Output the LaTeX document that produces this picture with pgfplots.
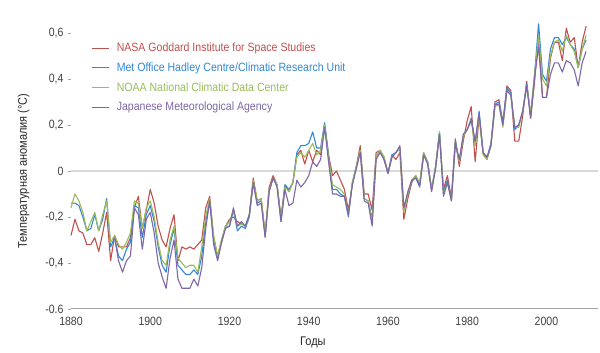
\documentclass[border=0pt]{standalone}
\usepackage{fontspec}
\setmainfont{Liberation Sans}[FakeStretch=0.88]
\usepackage{pgfplots}
\pgfplotsset{compat=1.18}
\usepackage{pgfplotstable}
\definecolor{cR}{HTML}{C0504D}
\definecolor{cB}{HTML}{3187D6}
\definecolor{cG}{HTML}{9BBB59}
\definecolor{cP}{HTML}{7E66A8}
\definecolor{txt}{HTML}{404040}
\definecolor{axgray}{HTML}{A6A6A6}
\definecolor{gridc}{HTML}{D9D9D9}

\pgfplotstableread{
year R B G P
1880 -0.28 -0.14 -0.16 nan
1881 -0.21 -0.14 -0.10 nan
1882 -0.26 -0.15 -0.13 nan
1883 -0.27 -0.20 -0.18 nan
1884 -0.32 -0.26 -0.26 nan
1885 -0.32 -0.25 -0.22 nan
1886 -0.29 -0.19 -0.18 nan
1887 -0.35 -0.26 -0.26 nan
1888 -0.27 -0.21 -0.19 nan
1889 -0.18 -0.12 -0.13 nan
1890 -0.39 -0.33 -0.31 nan
1891 -0.28 -0.29 -0.28 -0.29
1892 -0.33 -0.37 -0.32 -0.39
1893 -0.33 -0.39 -0.34 -0.44
1894 -0.33 -0.34 -0.31 -0.39
1895 -0.29 -0.31 -0.27 -0.37
1896 -0.16 -0.15 -0.13 -0.16
1897 -0.11 -0.16 -0.14 -0.19
1898 -0.25 -0.29 -0.25 -0.34
1899 -0.17 -0.19 -0.16 -0.21
1900 -0.08 -0.15 -0.13 -0.18
1901 -0.14 -0.22 -0.20 -0.27
1902 -0.24 -0.33 -0.31 -0.40
1903 -0.30 -0.41 -0.39 -0.46
1904 -0.33 -0.44 -0.41 -0.51
1905 -0.25 -0.32 -0.30 -0.38
1906 -0.19 -0.25 -0.24 -0.30
1907 -0.39 -0.41 -0.38 -0.47
1908 -0.33 -0.43 -0.40 -0.51
1909 -0.34 -0.45 -0.42 -0.51
1910 -0.33 -0.45 -0.41 -0.51
1911 -0.34 -0.43 -0.41 -0.47
1912 -0.32 -0.45 -0.44 -0.50
1913 -0.30 -0.37 -0.33 -0.42
1914 -0.16 -0.22 -0.20 -0.25
1915 -0.11 -0.13 -0.12 -0.13
1916 -0.29 -0.30 -0.28 -0.32
1917 -0.37 -0.38 -0.37 -0.39
1918 -0.30 -0.31 -0.30 -0.31
1919 -0.24 -0.24 -0.24 -0.25
1920 -0.21 -0.24 -0.22 -0.24
1921 -0.20 -0.17 -0.17 -0.16
1922 -0.22 -0.26 -0.24 -0.24
1923 -0.23 -0.24 -0.23 -0.22
1924 -0.24 -0.25 -0.24 -0.24
1925 -0.19 -0.20 -0.19 -0.19
1926 -0.03 -0.05 -0.04 -0.05
1927 -0.13 -0.14 -0.13 -0.15
1928 -0.12 -0.13 -0.12 -0.14
1929 -0.28 -0.28 -0.27 -0.29
1930 -0.07 -0.09 -0.08 -0.09
1931 -0.02 -0.03 -0.03 -0.03
1932 -0.06 -0.06 -0.06 -0.07
1933 -0.20 -0.22 -0.21 -0.22
1934 -0.06 -0.06 -0.07 -0.08
1935 -0.09 -0.08 -0.09 -0.15
1936 -0.05 -0.05 -0.05 -0.14
1937 0.07 0.08 0.06 -0.04
1938 0.09 0.11 0.08 -0.07
1939 0.03 0.11 0.06 -0.05
1940 0.09 0.12 0.09 -0.02
1941 0.04 0.17 0.12 0.04
1942 0.09 0.10 0.07 0.02
1943 0.07 0.10 0.09 0.05
1944 0.20 0.21 0.20 0.19
1945 0.07 0.07 0.06 0.04
1946 -0.02 -0.08 -0.06 -0.10
1947 0.00 -0.08 -0.07 -0.10
1948 -0.04 -0.10 -0.08 -0.11
1949 -0.08 -0.11 -0.10 -0.11
1950 -0.17 -0.20 -0.19 -0.19
1951 -0.06 -0.05 -0.05 -0.06
1952 0.02 0.02 0.02 0.01
1953 0.11 0.09 0.09 0.08
1954 -0.10 -0.12 -0.12 -0.13
1955 -0.10 -0.13 -0.13 -0.14
1956 -0.17 -0.21 -0.22 -0.24
1957 0.08 0.06 0.06 0.05
1958 0.09 0.09 0.09 0.08
1959 0.05 0.06 0.06 0.05
1960 -0.01 -0.01 -0.01 -0.01
1961 0.07 0.07 0.06 0.06
1962 0.05 0.08 0.08 0.08
1963 0.08 0.10 0.10 0.11
1964 -0.21 -0.17 -0.18 -0.16
1965 -0.12 -0.10 -0.10 -0.09
1966 -0.05 -0.04 -0.04 -0.04
1967 -0.02 -0.03 -0.02 -0.03
1968 -0.06 -0.06 -0.05 -0.07
1969 0.08 0.07 0.08 0.07
1970 0.04 0.04 0.04 0.03
1971 -0.08 -0.08 -0.08 -0.09
1972 0.01 0.02 0.02 0.01
1973 0.16 0.17 0.17 0.16
1974 -0.08 -0.09 -0.10 -0.11
1975 -0.02 -0.04 -0.05 -0.05
1976 -0.12 -0.12 -0.13 -0.13
1977 0.14 0.13 0.12 0.12
1978 0.02 0.04 0.04 0.05
1979 0.13 0.15 0.15 0.16
1980 0.22 0.18 0.18 0.18
1981 0.28 0.23 0.22 0.22
1982 0.04 0.12 0.11 0.13
1983 0.24 0.26 0.24 0.25
1984 0.08 0.08 0.07 0.08
1985 0.05 0.06 0.05 0.06
1986 0.12 0.12 0.11 0.11
1987 0.30 0.29 0.28 0.29
1988 0.31 0.30 0.29 0.29
1989 0.21 0.21 0.19 0.20
1990 0.37 0.36 0.35 0.35
1991 0.35 0.34 0.33 0.33
1992 0.13 0.18 0.19 0.19
1993 0.13 0.20 0.19 0.20
1994 0.24 0.26 0.26 0.26
1995 0.39 0.38 0.37 0.37
1996 0.23 0.24 0.25 0.23
1997 0.39 0.42 0.42 0.41
1998 0.59 0.64 0.59 0.54
1999 0.32 0.42 0.40 0.32
2000 0.32 0.39 0.37 0.32
2001 0.49 0.53 0.50 0.42
2002 0.56 0.58 0.56 0.47
2003 0.56 0.58 0.57 0.47
2004 0.48 0.55 0.52 0.43
2005 0.62 0.58 0.59 0.48
2006 0.56 0.55 0.55 0.47
2007 0.58 0.53 0.52 0.44
2008 0.45 0.45 0.45 0.37
2009 0.56 0.53 0.53 0.47
2010 0.63 0.57 0.59 0.52
}\temps

\begin{document}
\begin{tikzpicture}
\begin{axis}[
  scale only axis,
  width=527pt, height=276pt,
  xmin=1880, xmax=2013,
  ymin=-0.6, ymax=0.6,
  axis x line*=bottom,
  axis y line*=left,
  y axis line style={draw=none},
  x axis line style={axgray, line width=1pt},
  xtick={1880,1900,1920,1940,1960,1980,2000},
  xticklabels={1880,1900,1920,1940,1960,1980,2000},
  ytick={-0.6,-0.4,-0.2,0,0.2,0.4,0.6},
  yticklabels={{-0.6},{-0,4},{-0,2},{0},{0,2},{0,4},{0,6}},
  tick align=outside,
  major tick length=3pt,
  tick style={axgray, line width=0.8pt},
  xtick style={draw=none},
  tick label style={font=\fontsize{12}{14}\selectfont, text=txt},
  xticklabel style={yshift=-2pt},
  yticklabel style={xshift=-1pt},
  extra y ticks={0},
  extra y tick labels={},
  extra y tick style={grid=major, major grid style={gridc, line width=1.5pt}, tick style={draw=none}},
  xlabel={Годы},
  ylabel={Температурная аномалия (°C)},
  every axis x label/.style={at={(axis description cs:0.459,-0.12)}, anchor=center, font=\fontsize{12.5}{14}\selectfont, text=black!85},
  every axis y label/.style={at={(axis description cs:-0.09,0.5)}, anchor=center, rotate=90, font=\fontsize{12.5}{14}\selectfont, text=black!85},
  legend style={at={(axis description cs:0.033,0.975)}, anchor=north west, draw=none, fill=none,
    font=\fontsize{12}{14}\selectfont, row sep=7.5pt, nodes={inner sep=1pt},
    /tikz/every odd column/.append style={column sep=6pt}},
  legend cell align=left,
  every axis plot/.append style={line width=1.1pt, line join=round},
  clip=false,
]
\addplot[cR] table[x=year, y=R] {\temps};
\addlegendentry{\textcolor{cR}{NASA Goddard Institute for Space Studies}}
\addplot[cB] table[x=year, y=B] {\temps};
\addlegendentry{\textcolor{cB}{Met Office Hadley Centre/Climatic Research Unit}}
\addplot[cG] table[x=year, y=G] {\temps};
\addlegendentry{\textcolor{cG}{NOAA National Climatic Data Center}}
\addplot[cP] table[x=year, y=P] {\temps};
\addlegendentry{\textcolor{cP}{Japanese Meteorological Agency}}
\end{axis}
\pgfresetboundingbox
\useasboundingbox (-71pt,-44pt) rectangle (529pt,309pt);
\end{tikzpicture}
\end{document}
